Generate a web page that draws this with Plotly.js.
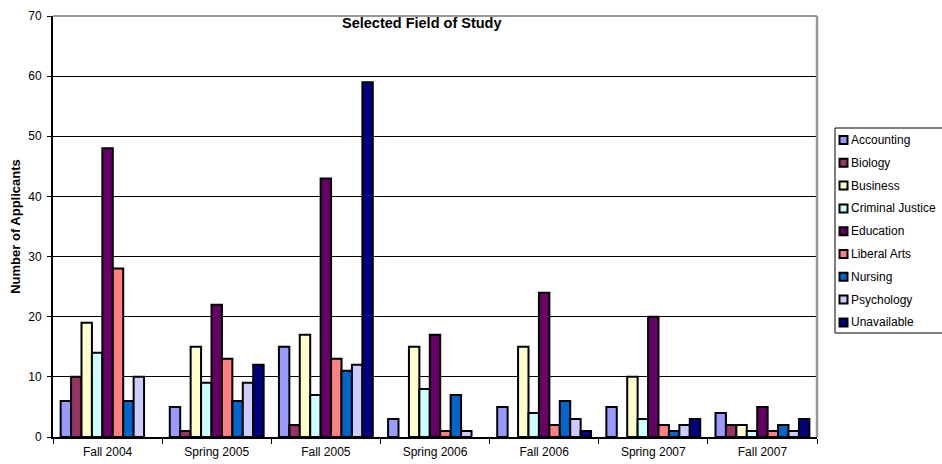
<!DOCTYPE html>
<html>
<head>
<meta charset="utf-8">
<script src="https://cdn.plot.ly/plotly-3.0.1.min.js"></script>
<style>
  html, body { margin: 0; padding: 0; background: #fff; overflow: hidden; }
  #chart { width: 942px; height: 464px; }
</style>
</head>
<body>
<div id="chart"></div>
<script>
// Terms on the category axis
const terms = ["Fall 2004", "Spring 2005", "Fall 2005", "Spring 2006", "Fall 2006", "Spring 2007", "Fall 2007"];

// Applicants per field of study, one value per term
const accounting      = [6, 5, 15, 3, 5, 5, 4];
const biology         = [10, 1, 2, 0, 0, 0, 2];
const business        = [19, 15, 17, 15, 15, 10, 2];
const criminalJustice = [14, 9, 7, 8, 4, 3, 1];
const education       = [48, 22, 43, 17, 24, 20, 5];
const liberalArts     = [28, 13, 13, 1, 2, 2, 1];
const nursing         = [6, 6, 11, 7, 6, 1, 2];
const psychology      = [10, 9, 12, 1, 3, 2, 1];
const unavailable     = [0, 12, 59, 0, 1, 3, 3];

const fields = ["Accounting", "Biology", "Business", "Criminal Justice", "Education",
                "Liberal Arts", "Nursing", "Psychology", "Unavailable"];
const series = [accounting, biology, business, criminalJustice, education,
                liberalArts, nursing, psychology, unavailable];
const colors = ["#9999FF", "#993366", "#FFFFCC", "#CCFFFF", "#660066",
                "#FF8080", "#0066CC", "#CCCCFF", "#000080"];

const W = 942, H = 464;
const M = { l: 53, r: 125, t: 16, b: 27 };
const plotW = W - M.l - M.r, plotH = H - M.t - M.b;
// pixel position -> paper fraction, for the legend panel beside the plot
const px = x => (x - M.l) / plotW;
const py = y => (H - M.b - y) / plotH;

// empty bars get no outline so nothing is drawn on the baseline
const traces = fields.map((name, i) => ({
  type: "bar",
  name: name,
  x: terms,
  y: series[i],
  marker: {
    color: colors[i],
    line: { color: "#000", width: series[i].map(v => (v === 0 ? 0 : 2)) }
  }
}));

const family = "Liberation Sans, Arial, sans-serif";
const tickFont = { family: family, size: 12, color: "#000" };

// Legend panel: framed box with a small outlined swatch and label per field
const legendBox = { left: 835, top: 128, bottom: 333, firstRow: 140, rowStep: 22.8 };
const legendShapes = [{
  type: "rect", xref: "paper", yref: "paper", layer: "above",
  x0: px(legendBox.left), x1: px(W + 10), y0: py(legendBox.top), y1: py(legendBox.bottom),
  line: { color: "#000", width: 1 }, fillcolor: "rgba(0,0,0,0)"
}];
const legendLabels = [];
fields.forEach((name, i) => {
  const cy = legendBox.firstRow + i * legendBox.rowStep;
  legendShapes.push({
    type: "rect", xref: "paper", yref: "paper", layer: "above",
    x0: px(839.5), x1: px(847.5), y0: py(cy - 4), y1: py(cy + 4),
    line: { color: "#000", width: 2 }, fillcolor: colors[i]
  });
  legendLabels.push({
    text: name, xref: "paper", yref: "paper",
    x: px(849), y: py(cy), xanchor: "left", yanchor: "middle", showarrow: false,
    font: { family: family, size: 12, color: "#000" }
  });
});

const layout = {
  width: W,
  height: H,
  margin: Object.assign({ autoexpand: false }, M),
  paper_bgcolor: "#fff",
  plot_bgcolor: "#fff",
  font: tickFont,
  barmode: "group",
  bargap: 0.14,
  bargroupgap: 0,
  showlegend: false,
  xaxis: {
    type: "category",
    showline: true, linecolor: "#000", linewidth: 2,
    ticks: "outside", ticklen: 5, tickcolor: "#000", tickwidth: 1,
    tickson: "boundaries",
    ticklabelstandoff: 3,
    showgrid: false,
    tickfont: tickFont,
    fixedrange: true
  },
  yaxis: {
    range: [0, 70],
    dtick: 10,
    showline: true, linecolor: "#000", linewidth: 2,
    ticks: "outside", ticklen: 4, tickcolor: "#000", tickwidth: 1,
    ticklabelstandoff: 3,
    showgrid: true, gridcolor: "#000", gridwidth: 1,
    zeroline: false,
    tickfont: tickFont,
    title: { text: "<b>Number of Applicants</b>", font: { family: family, size: 13, color: "#000" }, standoff: 5 },
    fixedrange: true
  },
  shapes: [
    // grey frame on the top and right of the plot area
    { type: "line", xref: "paper", yref: "paper", x0: 0, x1: 1, y0: 1, y1: 1,
      line: { color: "#999", width: 2 } },
    { type: "line", xref: "paper", yref: "paper", x0: 1, x1: 1, y0: 0, y1: 1,
      line: { color: "#999", width: 2.5 } }
  ].concat(legendShapes),
  annotations: [
    { text: "<b>Selected Field of Study</b>", xref: "paper", yref: "paper",
      x: px(421.7), y: py(23.5), xanchor: "center", yanchor: "middle", showarrow: false,
      font: { family: family, size: 14.5, color: "#000" } }
  ].concat(legendLabels)
};

Plotly.newPlot("chart", traces, layout, { displayModeBar: false, staticPlot: true });
</script>
</body>
</html>
